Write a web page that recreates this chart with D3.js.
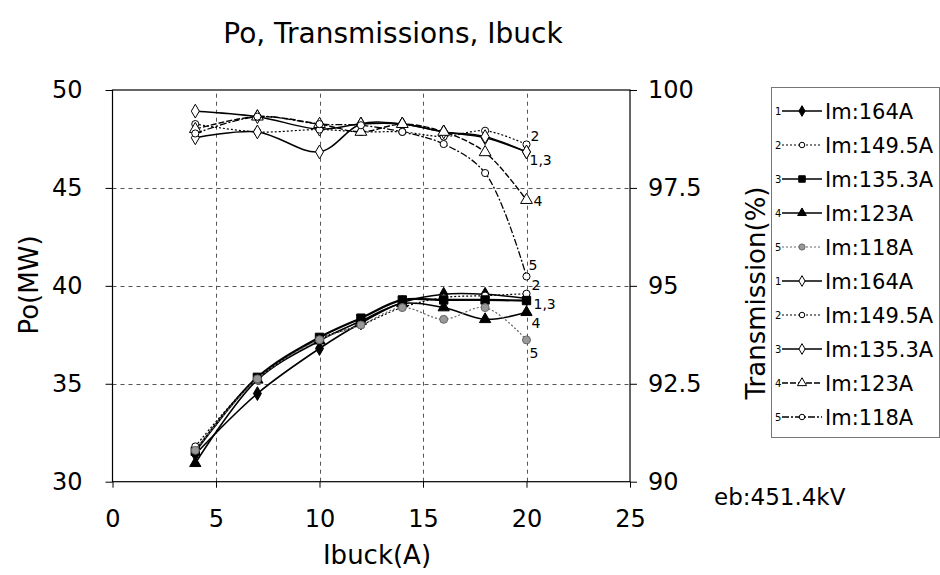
<!DOCTYPE html>
<html><head><meta charset="utf-8">
<script src="https://cdn.jsdelivr.net/npm/d3@7"></script>
<style>body{margin:0;background:#fff}svg{display:block}text{font-family:"DejaVu Sans",sans-serif;fill:#000}</style>
</head><body>
<script>
const ibuck = [4, 7, 10, 12, 14, 16, 18, 20];
const seriesNames = ["Im:164A", "Im:149.5A", "Im:135.3A", "Im:123A", "Im:118A"];
// Po (MW)
const po1 = [31.4, 34.5, 36.8, 38.1, 39.15, 39.57, 39.57, 39.35];
const po2 = [31.8, 35.3, 37.3, 38.0, 38.9, 39.4, 39.5, 39.6];
const po3 = [31.55, 35.33, 37.37, 38.35, 39.28, 39.28, 39.28, 39.25];
const po4 = [30.94, 35.2, 37.2, 38.2, 39.1, 38.89, 38.29, 38.65];
const po5 = [31.6, 35.25, 37.25, 38.0, 38.89, 38.29, 38.89, 37.24];
// Transmission (%)
const tr1 = [99.46, 99.32, 99.0, 99.13, 99.13, 98.93, 98.78, 98.42];
const tr2 = [99.13, 98.93, 98.99, 98.93, 98.93, 98.81, 98.96, 98.61];
const tr3 = [98.78, 98.93, 98.42, 99.13, 99.13, 98.93, 98.81, 98.42];
const tr4 = [99.0, 99.32, 99.13, 98.93, 99.13, 98.93, 98.41, 97.19];
const tr5 = [98.89, 99.32, 99.13, 99.1, 98.93, 98.62, 97.88, 95.24];
const xTicks = [0, 5, 10, 15, 20, 25];
const poTicks = [30, 35, 40, 45, 50];
const trTicks = [90, 92.5, 95, 97.5, 100];

const W = 940, H = 575;
const svg = d3.select("body").append("svg").attr("width", W).attr("height", H);
const x = d3.scaleLinear().domain([0, 25]).range([112.5, 630]);
const yL = d3.scaleLinear().domain([30, 50]).range([481.7, 90]);
const yR = d3.scaleLinear().domain([90, 100]).range([481.7, 90]);

// grid
const grid = svg.append("g").attr("stroke", "#555").attr("stroke-width", 1).attr("stroke-dasharray", "4,4");
[35, 40, 45].forEach(v => grid.append("line").attr("x1", x(0)).attr("x2", x(25)).attr("y1", Math.round(yL(v)) + 0.5).attr("y2", Math.round(yL(v)) + 0.5));
[5, 10, 15, 20].forEach(v => grid.append("line").attr("y1", yL(30)).attr("y2", yL(50)).attr("x1", Math.round(x(v)) + 0.5).attr("x2", Math.round(x(v)) + 0.5));

// border
svg.append("rect").attr("x", x(0)).attr("y", yL(50)).attr("width", x(25) - x(0)).attr("height", yL(30) - yL(50))
  .attr("fill", "none").attr("stroke", "#000").attr("stroke-width", 1.2);

// axes
const axL = svg.append("g").attr("transform", `translate(${x(0)},0)`)
  .call(d3.axisLeft(yL).tickValues(poTicks).tickSize(7).tickPadding(23));
const axR = svg.append("g").attr("transform", `translate(${x(25)},0)`)
  .call(d3.axisRight(yR).tickValues(trTicks).tickSize(7).tickPadding(11).tickFormat(d => d));
const axB = svg.append("g").attr("transform", `translate(0,${yL(30)})`)
  .call(d3.axisBottom(x).tickValues(xTicks).tickSize(6).tickPadding(22));
[axL, axR, axB].forEach(a => { a.select(".domain").remove(); a.selectAll("text").attr("font-size", 24).style("font-family", "DejaVu Sans, sans-serif"); });

// titles
svg.append("text").attr("x", 393).attr("y", 43).attr("text-anchor", "middle").attr("font-size", 28).text("Po, Transmissions, Ibuck");
svg.append("text").attr("transform", "translate(38,285) rotate(-90)").attr("text-anchor", "middle").attr("font-size", 26).text("Po(MW)");
svg.append("text").attr("transform", "translate(765,293) rotate(-90)").attr("text-anchor", "middle").attr("font-size", 26).text("Transmission(%)");
svg.append("text").attr("x", 377).attr("y", 564).attr("text-anchor", "middle").attr("font-size", 26).text("Ibuck(A)");
svg.append("text").attr("x", 714).attr("y", 505).attr("font-size", 23).text("eb:451.4kV");

// styles
const poStyles = [
  {vals: po1, dash: null, w: 1.6, color: "#000", sym: d3.symbolDiamond, fill: "#000", size: 55},
  {vals: po2, dash: "2,2", w: 1.2, color: "#000", sym: d3.symbolCircle, fill: "#fff", size: 40},
  {vals: po3, dash: null, w: 2.2, color: "#000", sym: d3.symbolSquare, fill: "#000", size: 70},
  {vals: po4, dash: null, w: 1.6, color: "#000", sym: d3.symbolTriangle, fill: "#000", size: 55},
  {vals: po5, dash: "2,2", w: 1.2, color: "#666", sym: d3.symbolCircle, fill: "#999", size: 50}
];
const trStyles = [
  {vals: tr1, dash: null, w: 1.5, color: "#000", sym: d3.symbolDiamond, fill: "#fff", size: 55},
  {vals: tr2, dash: "2,2", w: 1.2, color: "#000", sym: d3.symbolCircle, fill: "#fff", size: 40},
  {vals: tr3, dash: null, w: 1.5, color: "#000", sym: d3.symbolDiamond, fill: "#fff", size: 55},
  {vals: tr4, dash: "6,2", w: 1.4, color: "#000", sym: d3.symbolTriangle, fill: "#fff", size: 60},
  {vals: tr5, dash: "7,2,2,2", w: 1.3, color: "#000", sym: d3.symbolCircle, fill: "#fff", size: 40}
];
const curve = d3.curveCatmullRom.alpha(0.5);

function drawSeries(styles, y) {
  styles.forEach(s => {
    const pts = ibuck.map((v, i) => [v, s.vals[i]]);
    svg.append("path").datum(pts).attr("fill", "none").attr("stroke", s.color).attr("stroke-width", s.w)
      .attr("stroke-dasharray", s.dash)
      .attr("d", d3.line().x(d => x(d[0])).y(d => y(d[1])).curve(curve));
    svg.append("g").selectAll("path").data(pts).join("path")
      .attr("transform", d => `translate(${x(d[0])},${y(d[1])})`)
      .attr("d", d3.symbol().type(s.sym).size(s.size))
      .attr("fill", s.fill).attr("stroke", s.color).attr("stroke-width", 1);
  });
}
drawSeries(trStyles, yR);
drawSeries(poStyles, yL);

// end labels
const lab = svg.append("g").attr("font-size", 14);
const xe = x(20);
lab.append("text").attr("x", xe + 4).attr("y", yR(tr2[7]) - 3).text("2");
lab.append("text").attr("x", xe + 3).attr("y", yR(tr1[7]) + 13).text("1,3");
lab.append("text").attr("x", xe + 7).attr("y", yR(tr4[7]) + 6).text("4");
lab.append("text").attr("x", xe + 2).attr("y", yR(tr5[7]) - 6).text("5");
lab.append("text").attr("x", xe + 5).attr("y", yL(po2[7]) - 4).text("2");
lab.append("text").attr("x", xe + 7).attr("y", yL(po3[7]) + 8).text("1,3");
lab.append("text").attr("x", xe + 5).attr("y", yL(po4[7]) + 16).text("4");
lab.append("text").attr("x", xe + 3).attr("y", yL(po5[7]) + 18).text("5");

// legend
svg.append("rect").attr("x", 771.5).attr("y", 87.5).attr("width", 168).attr("height", 350)
  .attr("fill", "none").attr("stroke", "#777").attr("stroke-width", 1);
const legItems = poStyles.concat(trStyles);
legItems.forEach((s, i) => {
  const cy = 111 + i * 34;
  const g = svg.append("g");
  g.append("text").attr("x", 775).attr("y", cy + 4).attr("font-size", 10).text((i % 5) + 1);
  g.append("line").attr("x1", 782).attr("x2", 822).attr("y1", cy).attr("y2", cy)
    .attr("stroke", s.color).attr("stroke-width", Math.min(s.w, 1.6)).attr("stroke-dasharray", s.dash);
  g.append("path").attr("transform", `translate(802,${cy})`).attr("d", d3.symbol().type(s.sym).size(s.size * 0.6))
    .attr("fill", s.fill).attr("stroke", s.color);
  g.append("text").attr("x", 825).attr("y", cy + 8).attr("font-size", 21).text(seriesNames[i % 5]);
});
</script>
</body></html>
